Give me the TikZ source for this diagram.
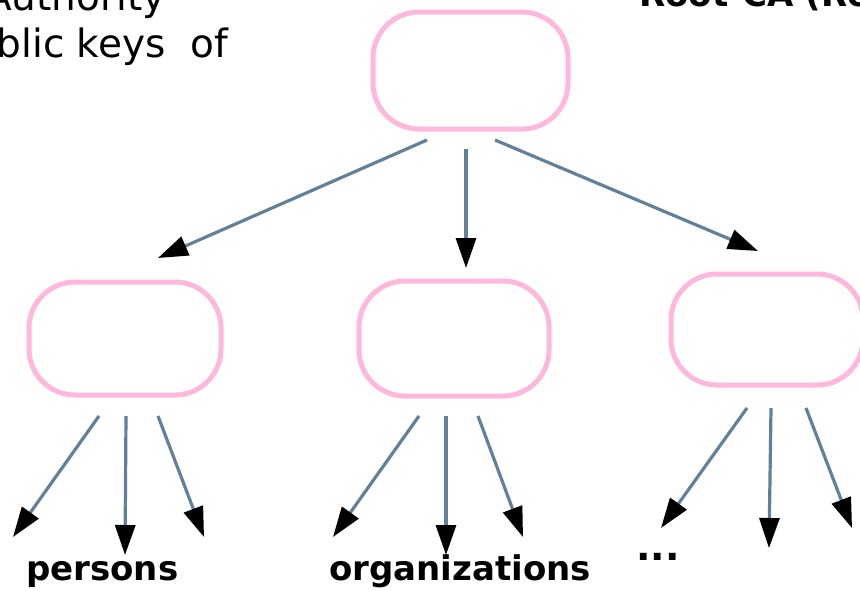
\documentclass[tikz,border=0pt]{standalone}
\usepackage{fontspec}
\setmainfont{DejaVu Sans}
\usetikzlibrary{arrows.meta}
\definecolor{boxpink}{HTML}{FFB8DC}
\definecolor{edgeblue}{HTML}{62809A}
\begin{document}
\begin{tikzpicture}[x=1pt,y=-1pt,
  cabox/.style={draw=boxpink,line width=5pt,rounded corners=46pt,fill=white,inner sep=0pt},
  link/.style={draw=edgeblue,line width=3.2pt,-{Triangle[length=30pt,width=20pt,color=black]}},
  lbl/.style={font=\fontsize{34}{40}\selectfont\bfseries,inner sep=0pt},
  toptxt/.style={font=\fontsize{39}{44}\selectfont,inner sep=0pt}]
\useasboundingbox (0,0) rectangle (860,590);
% boxes
\node[cabox,minimum width=195pt,minimum height=117pt] (root) at (470.5,70.5) {};
\node[cabox,minimum width=192pt,minimum height=113pt] (left) at (125,338.5) {};
\node[cabox,minimum width=190pt,minimum height=115pt] (mid) at (454,338.5) {};
\node[cabox,minimum width=192pt,minimum height=111pt] (right) at (767,329.5) {};
% texts
\node[toptxt,anchor=base east] (t1) at (166,10) {Authority};
\node[toptxt,anchor=base east] (t2) at (228,57) {blic keys\ \ of};
\node[lbl,anchor=base west] (t3) at (639,6) {Root-CA (Ro};
\node[lbl,anchor=base west] (persons) at (26,580) {persons};
\node[lbl,anchor=base west] (orgs) at (329,580) {organizations};
\node[lbl,anchor=base west,font=\fontsize{38}{40}\selectfont\bfseries] (dots) at (636,560) {...};
% arrow end points
\coordinate (r1s) at (427,140); \coordinate (r1e) at (158,258);
\coordinate (r2s) at (466,149); \coordinate (r2e) at (466,268);
\coordinate (r3s) at (495,140); \coordinate (r3e) at (758,251);
\coordinate (l1s) at (99,416);  \coordinate (l1e) at (13,537);
\coordinate (l2s) at (126,416); \coordinate (l2e) at (125,555);
\coordinate (l3s) at (158,416); \coordinate (l3e) at (204,537);
\coordinate (m1s) at (419,416); \coordinate (m1e) at (333,537);
\coordinate (m2s) at (446,416); \coordinate (m2e) at (446,555);
\coordinate (m3s) at (478,416); \coordinate (m3e) at (523,537);
\coordinate (g1s) at (747,408); \coordinate (g1e) at (661,528);
\coordinate (g2s) at (771,408); \coordinate (g2e) at (769,548);
\coordinate (g3s) at (806,408); \coordinate (g3e) at (852,528);
% arrows
\foreach \a in {r1,r2,r3,l1,l2,l3,m1,m2,m3,g1,g2,g3}{
  \draw[link] (\a s) -- (\a e);
}
\end{tikzpicture}
\end{document}
